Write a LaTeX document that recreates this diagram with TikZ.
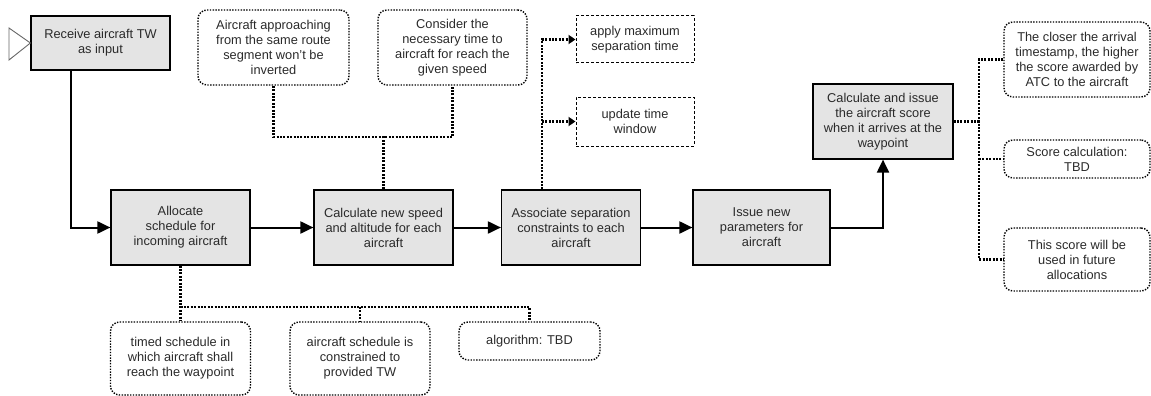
\documentclass[tikz,border=0pt]{standalone}
\usepackage{fontspec}
\setmainfont{Liberation Sans}
\usetikzlibrary{arrows.meta}

\definecolor{boxfill}{HTML}{E4E4E4}
\definecolor{ink}{HTML}{2A2A2A}

\tikzset{
  every node/.style={font=\fontsize{12.8}{15}\selectfont, text=ink, align=center, inner sep=0pt},
  proc/.style={draw=black, fill=boxfill, line width=1.2pt},
  note/.style={draw=black, line width=1.4pt, dash pattern=on 1.4pt off 1.4pt, rounded corners=9pt},
  task/.style={draw=black, line width=1pt, dash pattern=on 3pt off 2pt},
  flow/.style={line width=2pt, -{Triangle[length=13pt,width=12pt]}},
  link/.style={line width=2.2pt, dash pattern=on 2pt off 1.4pt},
  linkarrow/.style={link, -{Triangle[length=7pt,width=9pt]}}
}

\begin{document}
\begin{tikzpicture}[x=1pt, y=-1pt]
  \useasboundingbox (0,0) rectangle (1151,396);

  % main process chain
  \node[proc, minimum width=139pt, minimum height=54pt] (recv) at (100.5,43) {Receive aircraft TW\\as input};
  \node[proc, minimum width=139pt, minimum height=75pt] (alloc) at (180.5,227.5) {Allocate\\schedule for\\incoming aircraft};
  \node[proc, minimum width=139pt, minimum height=75pt] (speed) at (383.5,227.5) {Calculate new speed\\and altitude for each\\aircraft};
  \node[proc, minimum width=139pt, minimum height=75pt] (assoc) at (571,227.5) {Associate separation\\constraints to each\\aircraft};
  \node[proc, minimum width=137pt, minimum height=75pt] (issue) at (761.5,227.5) {Issue new\\parameters for\\aircraft};
  \node[proc, minimum width=140pt, minimum height=75pt] (score) at (883,121.5) {Calculate and issue\\the aircraft score\\when it arrives at the\\waypoint};

  % start marker
  \draw[draw=gray!80!black, line width=0.9pt] (9,28) -- (recv.west) -- (9,60) -- cycle;

  % notes
  \node[note, minimum width=151pt, minimum height=75pt] (appr) at (273.5,47.5) {Aircraft approaching\\from the same route\\segment won’t be\\inverted};
  \node[note, minimum width=149pt, minimum height=75pt] (cons) at (452.5,47.5) {Consider the\\necessary time to\\aircraft for reach the\\given speed};
  \node[task, minimum width=118pt, minimum height=47pt] (apply) at (635,39.5) {apply maximum\\separation time};
  \node[task, minimum width=118pt, minimum height=49pt] (upd) at (635,121.5) {update time\\window};
  \node[note, minimum width=146pt, minimum height=75pt] (closer) at (1077,59.5) {The closer the arrival\\timestamp, the higher\\the score awarded by\\ATC to the aircraft};
  \node[note, minimum width=146pt, minimum height=38pt] (scalc) at (1077,159) {Score calculation:\\TBD};
  \node[note, minimum width=146pt, minimum height=63pt] (future) at (1077,259.5) {This score will be\\used in future\\allocations};
  \node[note, minimum width=140pt, minimum height=73pt] (timed) at (180.5,358.5) {timed schedule in\\which aircraft shall\\reach the waypoint};
  \node[note, minimum width=140pt, minimum height=73pt] (prov) at (360,358.5) {aircraft schedule is\\constrained to\\provided TW};
  \node[note, minimum width=141pt, minimum height=38pt] (algo) at (529.5,341) {algorithm: TBD};

  % flow arrows
  \draw[flow] ([xshift=41pt]recv.south west) |- (alloc.west);
  \draw[flow] (alloc.east) -- (speed.west);
  \draw[flow] (speed.east) -- (assoc.west);
  \draw[flow] (assoc.east) -- (issue.west);
  \draw[flow] (issue.east) -| (score.south);

  % note links above the speed box
  \coordinate (sj) at (383.5,137);
  \draw[link] (appr.south) |- (sj) -| (cons.south);
  \draw[link] (speed.north) -- (sj);

  % separation constraint actions
  \coordinate (aj) at (542,121.5);
  \draw[linkarrow] ([xshift=-29pt]assoc.north) |- (apply.west);
  \draw[linkarrow] (aj) -- (upd.west);

  % score notes
  \coordinate (rj) at (979,121.5);
  \draw[link] (score.east) -- (rj);
  \draw[link] (closer.west) -| (rj) |- (future.west);
  \draw[link] (rj |- scalc.west) -- (scalc.west);

  % allocation notes
  \coordinate (bj) at (180.5,307);
  \draw[link] (alloc.south) -- (timed.north);
  \draw[link] (bj) -| (algo.north);
  \draw[link] (bj -| prov.north) -- (prov.north);
\end{tikzpicture}
\end{document}
